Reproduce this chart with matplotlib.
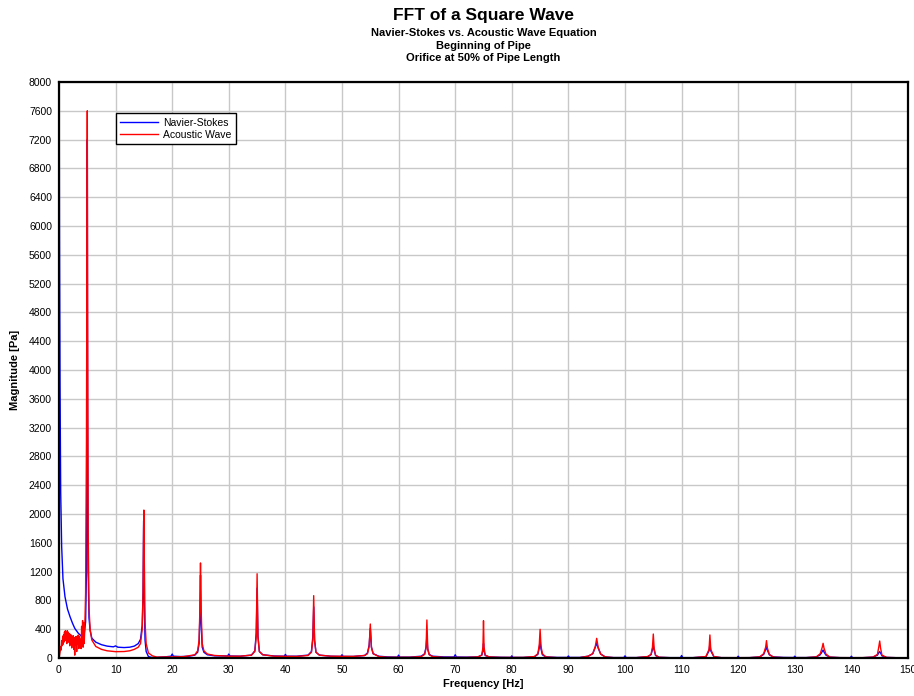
import numpy as np
import matplotlib
matplotlib.use("Agg")
import matplotlib.pyplot as plt

# values, (frequency [Hz], magnitude [Pa])
ns_points = [
    (0.0, 9500), (0.08, 6000), (0.18, 3800), (0.3, 2300), (0.47, 1550), (0.7, 1100),
    (1.06, 850), (1.5, 680), (1.94, 575), (2.4, 480), (2.8, 410), (3.4, 345),
    (4.0, 300), (4.4, 300), (4.7, 500), (4.85, 1200), (4.95, 3500), (5.0, 7200),
    (5.05, 3500), (5.15, 1200), (5.3, 560), (5.5, 380), (5.8, 275), (6.5, 220),
    (7.5, 185), (8.5, 165), (9.6, 155), (10.0, 168), (10.4, 150), (11.5, 145),
    (12.5, 150), (13.3, 165), (14.0, 200), (14.4, 260), (14.7, 450), (14.85, 900),
    (14.95, 1900), (15.0, 1950), (15.05, 900), (15.2, 250), (15.4, 90), (15.8, 20),
    (16.5, 6), (17.5, 10), (19.0, 18), (19.8, 25), (20.0, 55), (20.2, 25),
    (21.5, 20), (23.0, 25), (24.0, 40), (24.5, 80), (24.75, 200), (24.9, 600),
    (25.0, 1150), (25.1, 500), (25.3, 150), (25.6, 80), (26.2, 45), (27.5, 30),
    (29.8, 28), (30.0, 55), (30.2, 28), (32.0, 25), (34.0, 40), (34.6, 100),
    (34.85, 350), (35.0, 970), (35.15, 300), (35.4, 90), (36.0, 45), (38.0, 28),
    (39.8, 25), (40.0, 50), (40.2, 25), (42.0, 25), (44.0, 40), (44.6, 90),
    (44.85, 300), (45.0, 710), (45.15, 250), (45.4, 80), (46.0, 40), (48.0, 25),
    (49.8, 22), (50.0, 45), (50.2, 22), (52.0, 22), (54.0, 35), (54.5, 70),
    (54.8, 180), (55.0, 410), (55.2, 150), (55.5, 60), (56.5, 25), (58.0, 15),
    (59.8, 12), (60.0, 40), (60.2, 12), (62.0, 12), (64.0, 25), (64.6, 60),
    (64.85, 150), (65.0, 300), (65.15, 120), (65.4, 50), (66.0, 25), (68.0, 15),
    (69.8, 14), (70.0, 45), (70.2, 14), (72.0, 12), (74.0, 15), (74.7, 40),
    (74.9, 110), (75.0, 200), (75.1, 100), (75.3, 35), (76.0, 15), (78.0, 10),
    (79.8, 8), (80.0, 30), (80.2, 8), (82.0, 8), (84.0, 18), (84.6, 50),
    (84.85, 140), (85.0, 250), (85.15, 130), (85.4, 45), (86.0, 15), (88.0, 8),
    (89.8, 8), (90.0, 28), (90.2, 8), (92.0, 8), (93.5, 25), (94.3, 60),
    (94.75, 150), (95.0, 208), (95.25, 140), (95.7, 55), (96.5, 15), (98.0, 6),
    (99.8, 6), (100.0, 30), (100.2, 6), (102.0, 6), (104.0, 18), (104.6, 45),
    (104.85, 120), (105.0, 180), (105.15, 110), (105.4, 35), (106.0, 10), (108.0, 5),
    (109.8, 5), (110.0, 35), (110.2, 5), (112.0, 5), (114.3, 18), (114.85, 100),
    (115.0, 200), (115.15, 100), (115.7, 18), (117.0, 5), (119.8, 4), (120.0, 25),
    (120.2, 4), (122.0, 5), (123.8, 15), (124.5, 50), (124.85, 120), (125.0, 157),
    (125.15, 110), (125.5, 45), (126.2, 15), (128.0, 8), (129.8, 6), (130.0, 25),
    (130.2, 6), (132.0, 6), (133.8, 15), (134.5, 45), (134.85, 90), (135.0, 111),
    (135.15, 85), (135.5, 40), (136.2, 12), (138.0, 5), (139.8, 4), (140.0, 25),
    (140.2, 4), (142.0, 4), (143.8, 12), (144.6, 40), (144.85, 75), (145.0, 88),
    (145.15, 70), (145.4, 30), (146.2, 8), (148.0, 4), (150.0, 4),
]

aw_points = [
    (0.0, 0), (0.1, 40), (0.2, 90), (0.3, 160), (0.38, 110), (0.47, 240),
    (0.55, 170), (0.65, 300), (0.72, 190), (0.8, 320), (0.88, 220), (0.97, 360),
    (1.05, 240), (1.13, 380), (1.2, 260), (1.3, 340), (1.38, 200), (1.47, 380),
    (1.55, 250), (1.63, 360), (1.72, 220), (1.8, 340), (1.9, 170), (1.98, 330),
    (2.07, 240), (2.15, 320), (2.25, 140), (2.33, 300), (2.42, 200), (2.5, 310),
    (2.6, 120), (2.68, 280), (2.78, 40), (2.86, 290), (2.95, 180), (3.05, 300),
    (3.13, 90), (3.22, 290), (3.3, 200), (3.4, 320), (3.5, 130), (3.6, 300),
    (3.7, 210), (3.8, 260), (3.9, 130), (4.0, 440), (4.08, 180), (4.17, 520),
    (4.25, 150), (4.35, 490), (4.45, 200), (4.55, 400), (4.7, 900), (4.85, 3000),
    (4.95, 6500), (5.0, 7600), (5.05, 5000), (5.15, 1800), (5.3, 700), (5.5, 400),
    (5.8, 250), (6.5, 160), (7.5, 120), (8.5, 100), (10.0, 88), (11.5, 90),
    (12.5, 100), (13.3, 120), (14.0, 150), (14.4, 200), (14.7, 400), (14.85, 900),
    (14.95, 1800), (15.0, 2055), (15.05, 1500), (15.2, 500), (15.4, 200), (15.8, 70),
    (16.5, 30), (17.3, 12), (19.0, 15), (20.0, 15), (22.0, 18), (24.0, 45),
    (24.5, 100), (24.75, 250), (24.9, 700), (25.0, 1320), (25.1, 700), (25.3, 200),
    (25.6, 100), (26.2, 55), (27.5, 35), (30.0, 25), (32.0, 25), (34.0, 40),
    (34.6, 90), (34.85, 300), (35.0, 1170), (35.15, 300), (35.4, 90), (36.0, 45),
    (38.0, 25), (42.0, 22), (44.0, 35), (44.6, 80), (44.85, 250), (45.0, 866),
    (45.15, 250), (45.4, 80), (46.0, 40), (48.0, 25), (52.0, 22), (54.0, 35),
    (54.5, 60), (54.8, 160), (55.0, 472), (55.2, 150), (55.5, 60), (56.5, 20),
    (58.0, 10), (62.0, 10), (64.0, 20), (64.6, 50), (64.85, 140), (65.0, 528),
    (65.15, 130), (65.4, 45), (66.0, 20), (68.0, 8), (72.0, 8), (74.0, 15),
    (74.7, 40), (74.9, 150), (75.0, 518), (75.1, 150), (75.3, 40), (76.0, 15),
    (78.0, 8), (82.0, 8), (84.0, 20), (84.6, 60), (84.85, 180), (85.0, 398),
    (85.15, 170), (85.4, 60), (86.0, 15), (88.0, 5), (92.0, 5), (93.5, 25),
    (94.3, 60), (94.75, 160), (95.0, 273), (95.25, 150), (95.7, 55), (96.5, 15),
    (98.0, 5), (102.0, 5), (104.0, 20), (104.6, 50), (104.85, 150), (105.0, 333),
    (105.15, 130), (105.4, 40), (106.0, 10), (108.0, 4), (112.0, 4), (114.3, 20),
    (114.85, 120), (115.0, 320), (115.15, 120), (115.7, 20), (117.0, 5), (122.0, 5),
    (123.8, 15), (124.5, 60), (124.85, 150), (125.0, 241), (125.15, 140), (125.5, 50),
    (126.2, 12), (128.0, 5), (132.0, 5), (133.8, 15), (134.5, 60), (134.85, 150),
    (135.0, 204), (135.15, 140), (135.5, 55), (136.2, 12), (138.0, 5), (142.0, 5),
    (143.8, 12), (144.6, 50), (144.85, 160), (145.0, 236), (145.15, 140), (145.4, 40),
    (146.2, 8), (148.0, 4), (150.0, 4),
]

x_ticks = list(range(0, 151, 10))
y_ticks = list(range(0, 8001, 400))

title = "FFT of a Square Wave"
subtitle_lines = [
    "Navier-Stokes vs. Acoustic Wave Equation",
    "Beginning of Pipe",
    "Orifice at 50% of Pipe Length",
]

plt.rcParams['font.family'] = ['Liberation Sans', 'DejaVu Sans']

W, H = 914, 696
fig = plt.figure(figsize=(W / 100, H / 100), dpi=100)

# axes box in pixels: left 59, right 908, top 82, bottom 658
ax = fig.add_axes([59 / W, (H - 658) / H, (908 - 59) / W, (658 - 82) / H])

ns = np.array(ns_points)
aw = np.array(aw_points)
ax.plot(ns[:, 0], ns[:, 1], color='#0000ff', lw=1.0, label="Navier-Stokes", zorder=3)
ax.plot(aw[:, 0], aw[:, 1], color='#ff0000', lw=1.0, label="Acoustic Wave", zorder=4)

ax.set_xlim(0, 150)
ax.set_ylim(0, 8000)
ax.set_xticks(x_ticks)
ax.set_yticks(y_ticks)
ax.tick_params(length=0, labelsize=7.5, pad=5)
ax.grid(True, color='#c8c8c8', lw=1.0, zorder=0)
ax.set_axisbelow(True)
for s in ax.spines.values():
    s.set_linewidth(1.6)
    s.set_color('black')
    s.set_zorder(5)

leg = ax.legend(loc='upper left', bbox_to_anchor=(0.0668, 0.9457), borderaxespad=0,
                fontsize=7.5, fancybox=False, framealpha=1, edgecolor='black',
                handlelength=3.6, handletextpad=0.5, labelspacing=0.15, borderpad=0.45)
leg.get_frame().set_linewidth(1.0)

cx = (59 + 908) / 2 / W
fig.text(cx, 1 - 15.5 / H, title, ha='center', va='center', fontsize=12.5, fontweight='bold')
for i, line in enumerate(subtitle_lines):
    fig.text(cx, 1 - (33.5 + 12.4 * i) / H, line, ha='center', va='center',
             fontsize=8, fontweight='bold')

fig.text(cx, 1 - 684 / H, "Frequency [Hz]", ha='center', va='center',
         fontsize=8, fontweight='bold')
fig.text(15 / W, 1 - 370 / H, "Magnitude [Pa]", ha='center', va='center',
         rotation=90, fontsize=8, fontweight='bold')

fig.savefig("out.png", dpi=100)
